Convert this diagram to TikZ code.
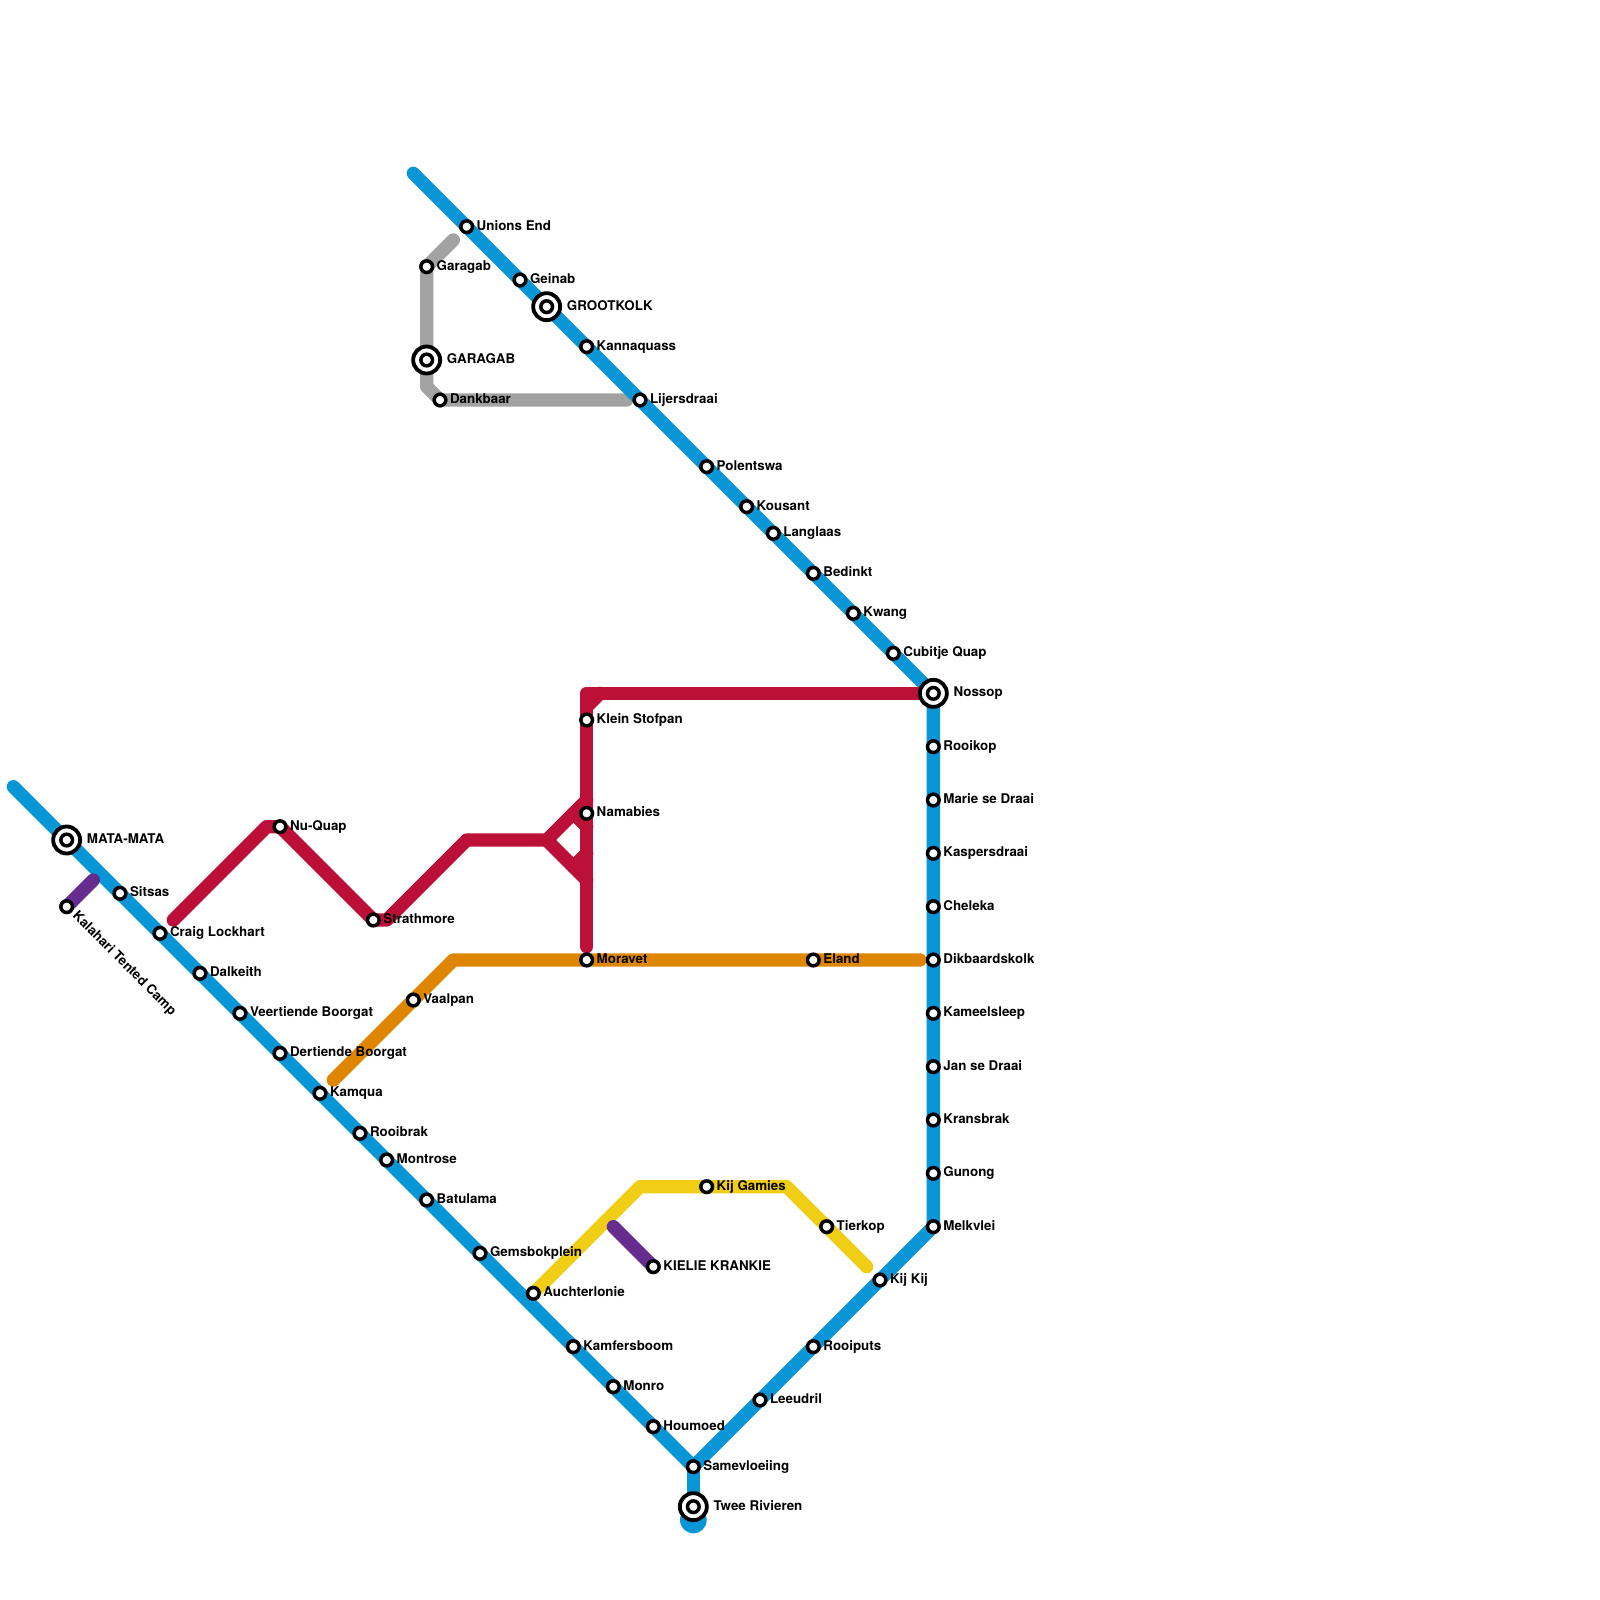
\documentclass[tikz,border=0pt]{standalone}
\usepackage{fontspec}
\setmainfont{TeX Gyre Heros}
\usetikzlibrary{backgrounds}
\definecolor{lineblue}{RGB}{8,150,215}
\definecolor{linered}{RGB}{189,16,56}
\definecolor{lineorange}{RGB}{223,134,0}
\definecolor{linegrey}{RGB}{162,162,162}
\definecolor{linepurple}{RGB}{102,44,144}
\definecolor{lineyellow}{RGB}{240,206,21}
\tikzset{
    metro/.style={line width=0.4cm, line cap=round, line join=round},
    stn/.style={circle, draw=black, fill=white, line width=0.105cm, minimum size=0.35cm, inner sep=0pt},
    stnbig/.style={circle, draw=black, fill=white, line width=0.115cm, minimum size=0.81cm, inner sep=0pt},
    stnlab/.style={font=\bfseries\fontsize{11.4}{13}\selectfont, inner sep=0pt, anchor=base west, text=black}
}
\begin{document}
\begin{tikzpicture}[x=0.4cm, y=-0.4cm]
    \useasboundingbox (0,0) rectangle (120,120);

    % Interchanges
    \foreach \id/\x/\y/\lab in {matamata/5/63/MATA-MATA, grootkolk/41/23/GROOTKOLK, garagab/32/27/GARAGAB,
        nossop/70/52/Nossop, twee/52/113/Twee Rivieren} {
        \node[stnbig] (\id) at (\x,\y) {};
        \node[stn] (\id-in) at (\id) {};
        \node[stnlab] (\id-lab) at ([xshift=0.6cm, yshift=-0.10cm]\id) {\lab};
    }

    % Stations, south-west branch
    \foreach \id/\x/\y/\lab in {sitsas/9/67/Sitsas, craig/12/70/Craig Lockhart, dalkeith/15/73/Dalkeith,
        veertiende/18/76/Veertiende Boorgat, dertiende/21/79/Dertiende Boorgat, kamqua/24/82/Kamqua,
        rooibrak/27/85/Rooibrak, montrose/29/87/Montrose, batulama/32/90/Batulama,
        gemsbok/36/94/Gemsbokplein, kamfers/43/101/Kamfersboom, monro/46/104/Monro,
        houmoed/49/107/Houmoed, samevloeiing/52/110/Samevloeiing} {
        \node[stn] (\id) at (\x,\y) {};
        \node[stnlab] (\id-lab) at ([xshift=0.295cm, yshift=-0.10cm]\id) {\lab};
    }

    % Stations, north branch
    \foreach \id/\x/\y/\lab in {unions/35/17/Unions End, geinab/39/21/Geinab, kannaquass/44/26/Kannaquass,
        lijersdraai/48/30/Lijersdraai, polentswa/53/35/Polentswa, kousant/56/38/Kousant,
        langlaas/58/40/Langlaas, bedinkt/61/43/Bedinkt, kwang/64/46/Kwang, cubitje/67/49/Cubitje Quap} {
        \node[stn] (\id) at (\x,\y) {};
        \node[stnlab] (\id-lab) at ([xshift=0.295cm, yshift=-0.10cm]\id) {\lab};
    }

    % Stations, east side
    \foreach \id/\x/\y/\lab in {rooikop/70/56/Rooikop, marie/70/60/Marie se Draai, kaspers/70/64/Kaspersdraai,
        cheleka/70/68/Cheleka, dikbaard/70/72/Dikbaardskolk, kameel/70/76/Kameelsleep,
        jan/70/80/Jan se Draai, kransbrak/70/84/Kransbrak, gunong/70/88/Gunong, melkvlei/70/92/Melkvlei,
        kijkij/66/96/Kij Kij, rooiputs/61/101/Rooiputs, leeudril/57/105/Leeudril} {
        \node[stn] (\id) at (\x,\y) {};
        \node[stnlab] (\id-lab) at ([xshift=0.295cm, yshift=-0.10cm]\id) {\lab};
    }

    % Stations on the other lines
    \foreach \id/\x/\y/\lab in {garagabstop/32/20/Garagab, dankbaar/33/30/Dankbaar, nuquap/21/62/Nu-Quap,
        strathmore/28/69/Strathmore, stofpan/44/54/Klein Stofpan, namabies/44/61/Namabies,
        moravet/44/72/Moravet, eland/61/72/Eland, vaalpan/31/75/Vaalpan,
        auchter/40/97/Auchterlonie, kijgamies/53/89/Kij Gamies, tierkop/62/92/Tierkop,
        kielie/49/95/KIELIE KRANKIE} {
        \node[stn] (\id) at (\x,\y) {};
        \node[stnlab] (\id-lab) at ([xshift=0.295cm, yshift=-0.10cm]\id) {\lab};
    }

    % Kalahari label runs along the diagonal
    \node[stn] (kalahari) at (5,68) {};
    \node[stnlab, rotate=-45] (kalahari-lab) at (5.4,68.75) {Kalahari Tented Camp};

    % Free line ends and bends
    \foreach \id/\x/\y in {bluewest/1/59, bluenorth/31/13, blueend/52/114,
        greytop/34/18, greybend/32/29, greyend/47/30,
        purpletop/7/66, purpleleft/46/92,
        yellowa/48/89, yellowb/59/89, yellowend/65/95,
        orangeend/25/81, orangebend/34/72, orangeeast/69/72,
        redstart/13/69, redpeak/20/62, redlow/29/69, redhigh/35/63, redfork/41/63,
        redup/44/60, redstuba/43/61, redstubb/44/62, reddown/44/66, redstubc/43/65, redstubd/44/64,
        redfoot/44/71, redtop/44/52, redeast/69/52, redcuta/44/53, redcutb/45/52} {
        \coordinate (\id) at (\x,\y);
    }

    \begin{scope}[on background layer]
        % Grey
        \draw[metro, linegrey] (greytop) -- (garagabstop.center) -- (garagab.center) -- (greybend) -- (dankbaar.center) -- (greyend);
        % Blue
        \draw[metro, lineblue] (bluewest) -- (matamata.center) -- (samevloeiing.center) -- (melkvlei.center) -- (nossop.center) -- (bluenorth);
        \draw[metro, lineblue] (samevloeiing.center) -- (twee.center) -- (blueend);
        \fill[lineblue] (blueend) circle (0.4cm);
        % Yellow
        \draw[metro, lineyellow] (auchter.center) -- (yellowa) -- (yellowb) -- (yellowend);
        % Purple
        \draw[metro, linepurple] (purpletop) -- (kalahari.center);
        \draw[metro, linepurple] (purpleleft) -- (kielie.center);
        % Orange
        \draw[metro, lineorange] (orangeend) -- (orangebend) -- (orangeeast);
        % Red
        \draw[metro, linered] (redstart) -- (redpeak) -- (nuquap.center) -- (strathmore.center) -- (redlow) -- (redhigh) -- (redfork) -- (redup);
        \draw[metro, linered] (redfork) -- (reddown);
        \draw[metro, linered] (redstuba) -- (redstubb);
        \draw[metro, linered] (redstubc) -- (redstubd);
        \draw[metro, linered] (redfoot) -- (redtop) -- (redeast);
        \draw[metro, linered] (redcuta) -- (redcutb);
    \end{scope}
\end{tikzpicture}
\end{document}
